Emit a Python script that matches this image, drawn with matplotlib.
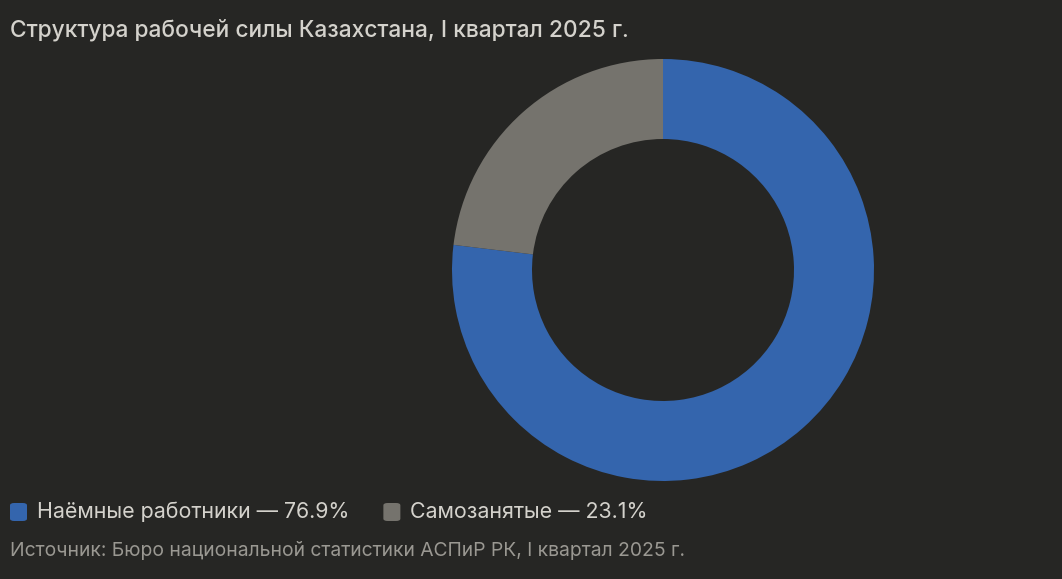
import matplotlib.pyplot as plt
from matplotlib.patches import FancyBboxPatch

labels = ["Наёмные работники", "Самозанятые"]
shares = [76.9, 23.1]
colors = ["#3465ad", "#75736d"]

title = "Структура рабочей силы Казахстана, I квартал 2025 г."
source = "Источник: Бюро национальной статистики АСПиР РК, I квартал 2025 г."

bg = "#262624"
W, H = 1062, 579
plt.rcParams["font.family"] = ["Inter", "DejaVu Sans"]

fig = plt.figure(figsize=(W / 100, H / 100), dpi=100, facecolor=bg)

# donut
cx, cy, r = 663, 270, 211
ax = fig.add_axes([(cx - r) / W, (H - cy - r) / H, 2 * r / W, 2 * r / H])
ax.set_facecolor(bg)
ax.pie(shares, colors=colors, startangle=90, counterclock=False,
       radius=1, wedgeprops=dict(width=80 / 211, linewidth=0))
ax.set_xlim(-1, 1)
ax.set_ylim(-1, 1)
ax.set_aspect("equal")
ax.axis("off")

fig.text(10 / W, 1 - 30 / H, title, fontsize=16.4, color="#d4d2cc",
         fontweight="medium", va="center", ha="left")

# legend
x = 10
for lab, val, col in zip(labels, shares, colors):
    box = FancyBboxPatch((x / W, 1 - 521 / H), 17 / W, 18 / H,
                         boxstyle="round,pad=0,rounding_size=0.004",
                         transform=fig.transFigure, facecolor=col,
                         edgecolor="none")
    fig.patches.append(box)
    t = fig.text((x + 27) / W, 1 - 512 / H, f"{lab} — {val}%", fontsize=15.4,
                 color="#d4d2cc", va="center", ha="left")
    fig.canvas.draw()
    bb = t.get_window_extent()
    x = bb.x1 + 34

fig.text(10 / W, 1 - 550 / H, source, fontsize=13.9, color="#9a9892",
         va="center", ha="left")

fig.savefig("out.png", dpi=100, facecolor=bg)
